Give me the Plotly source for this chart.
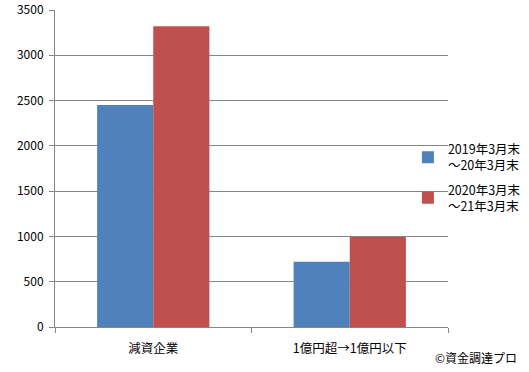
import plotly.graph_objects as go

categories = ["減資企業", "1億円超→1億円以下"]
series_names = ["2019年3月末<br>～20年3月末", "2020年3月末<br>～21年3月末"]
values_2019 = [2450, 720]
values_2020 = [3320, 995]
colors = ["#4F81BD", "#C0504D"]
yticks = [0, 500, 1000, 1500, 2000, 2500, 3000, 3500]

font_family = "Noto Sans CJK JP, DejaVu Sans, sans-serif"

fig = go.Figure()
for i, (name, vals, col) in enumerate(zip(series_names, [values_2019, values_2020], colors)):
    fig.add_trace(go.Bar(x=categories, y=vals, name=name, marker_color=col,
                         marker_line_width=0, legendgroup=f"g{i}"))

fig.update_layout(
    width=529, height=372,
    margin=dict(l=55, r=81, t=10, b=45, autoexpand=False),
    paper_bgcolor="white", plot_bgcolor="white",
    barmode="group", bargap=0.4286, bargroupgap=0,
    font=dict(family=font_family, size=12, color="#000000"),
    showlegend=True,
    legend=dict(x=0.898, y=0.607, xanchor="left", yanchor="top",
                bgcolor="rgba(0,0,0,0)", font=dict(size=12.5),
                tracegroupgap=5, itemwidth=30),
    xaxis=dict(showline=True, linecolor="#868686", linewidth=1,
               ticks="outside", tickcolor="#868686", ticklen=5,
               tickson="boundaries", showgrid=False,
               ticklabelstandoff=10,
               tickfont=dict(size=12.5)),
    yaxis=dict(range=[0, 3500], tickvals=yticks, showline=True,
               linecolor="#868686", linewidth=1, ticks="outside",
               tickcolor="#868686", ticklen=5, showgrid=True,
               gridcolor="#868686", gridwidth=1, zeroline=False,
               ticklabelstandoff=3,
               tickfont=dict(size=12)),
)
fig.add_annotation(text="©資金調達プロ", xref="paper", yref="paper",
                   x=0.962, y=-0.095, xanchor="left", yanchor="middle",
                   showarrow=False, font=dict(size=12))
fig.write_html("out.html", config={"displayModeBar": False},
               post_script="document.body.style.margin='0';")
